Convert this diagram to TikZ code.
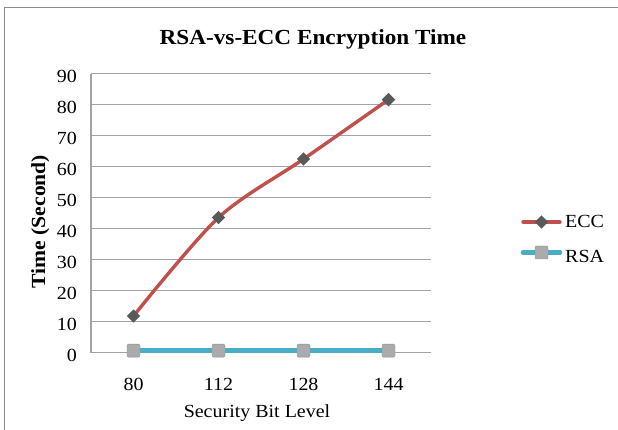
\documentclass[tikz,border=0pt]{standalone}
\usepackage{fontspec}
\setmainfont[FakeStretch=1.08]{Liberation Serif}
\usetikzlibrary{shapes.geometric}

\definecolor{framegray}{HTML}{8C8C8C}
\definecolor{gridgray}{HTML}{A3A3A3}
\definecolor{eccred}{HTML}{C0504D}
\definecolor{eccmarker}{HTML}{595959}
\definecolor{rsablue}{HTML}{4BACC6}
\definecolor{rsamarker}{HTML}{ABABAB}

\tikzset{
  framestyle/.style={draw=framegray, line width=1.5pt},
  gridline/.style={draw=gridgray, line width=1.1pt},
  ticklabel/.style={font=\fontsize{18.5}{20}\selectfont, inner sep=0pt},
  axistitle/.style={font=\fontsize{18.5}{20}\selectfont, inner sep=0pt},
  boldtitle/.style={font=\bfseries\fontsize{21.5}{24}\selectfont, inner sep=0pt},
  eccline/.style={draw=eccred, line width=3.4pt, line cap=round, line join=round},
  rsaline/.style={draw=rsablue, line width=4.6pt},
  eccdot/.style={diamond, fill=eccmarker, inner sep=0pt, minimum size=13.5pt},
  rsadot/.style={rectangle, fill=rsamarker, draw=rsamarker!85!black, line width=0.4pt,
                 rounded corners=1.2pt, inner sep=0pt, minimum size=13pt},
  legendtext/.style={font=\fontsize{18.5}{20}\selectfont, inner sep=0pt, anchor=base west}
}

\begin{document}
\begin{tikzpicture}[x=1pt, y=-1pt]
  \useasboundingbox (0,0) rectangle (618,430);
  \fill[white] (0,0) rectangle (618,430);

  % chart frame (top and left edges)
  \draw[framestyle] (4.5,430) -- (4.5,7.5) -- (618,7.5);

  % title
  \node[boldtitle, anchor=base] (title) at (313,45) {RSA-vs-ECC Encryption Time};

  % horizontal gridlines and value labels (0 at y=352.5, 3.095 per unit)
  \foreach \v [count=\i from 0] in {0,10,...,90} {
    \pgfmathsetmacro{\yy}{352.5-3.095*\v}
    \ifnum\v>0
      \draw[gridline] (91,\yy) -- (431,\yy);
    \fi
    \node[ticklabel, anchor=base east] (yt\i) at (77,\yy+9) {\v};
  }
  % axes
  \draw[gridline] (91,74) -- (91,352.5) -- (431,352.5);

  % category labels
  \foreach \c [count=\i] in {80,112,128,144} {
    \pgfmathsetmacro{\xx}{133.5+85*(\i-1)}
    \node[ticklabel, anchor=base] (xt\i) at (\xx,390) {\c};
  }

  % axis titles
  \node[axistitle, anchor=base] (xtitle) at (257,417) {Security Bit Level};
  \node[boldtitle, font=\bfseries\fontsize{20}{22}\selectfont, rotate=90, anchor=base] (ytitle) at (45,221.5) {Time (Second)};

  % data points
  \coordinate (e1) at (133.5,{352.5-3.095*11.8});
  \coordinate (e2) at (218.5,{352.5-3.095*43.6});
  \coordinate (e3) at (303.5,{352.5-3.095*62.5});
  \coordinate (e4) at (388.5,{352.5-3.095*81.7});
  \coordinate (r1) at (133.5,{352.5-3.095*0.6});
  \coordinate (r2) at (218.5,{352.5-3.095*0.6});
  \coordinate (r3) at (303.5,{352.5-3.095*0.6});
  \coordinate (r4) at (388.5,{352.5-3.095*0.6});

  % RSA series
  \draw[rsaline] (r1) -- (r2) -- (r3) -- (r4);
  \foreach \i in {1,...,4} \node[rsadot] (rm\i) at (r\i) {};

  % ECC series (smoothed)
  \draw[eccline] plot[smooth, tension=0.5] coordinates {(e1) (e2) (e3) (e4)};
  \foreach \i in {1,...,4} \node[eccdot] (em\i) at (e\i) {};

  % legend
  \coordinate (la1) at (523,222);
  \coordinate (la2) at (560,222);
  \coordinate (lb1) at (523,252.5);
  \coordinate (lb2) at (560,252.5);
  \draw[eccline] (la1) -- (la2);
  \node[eccdot] (lam) at (541.5,222) {};
  \node[legendtext] (laname) at (565,228) {ECC};
  \draw[rsaline, line cap=round] (lb1) -- (lb2);
  \node[rsadot] (lbm) at (541.5,252.5) {};
  \node[legendtext] (lbname) at (565,262) {RSA};
\end{tikzpicture}
\end{document}
